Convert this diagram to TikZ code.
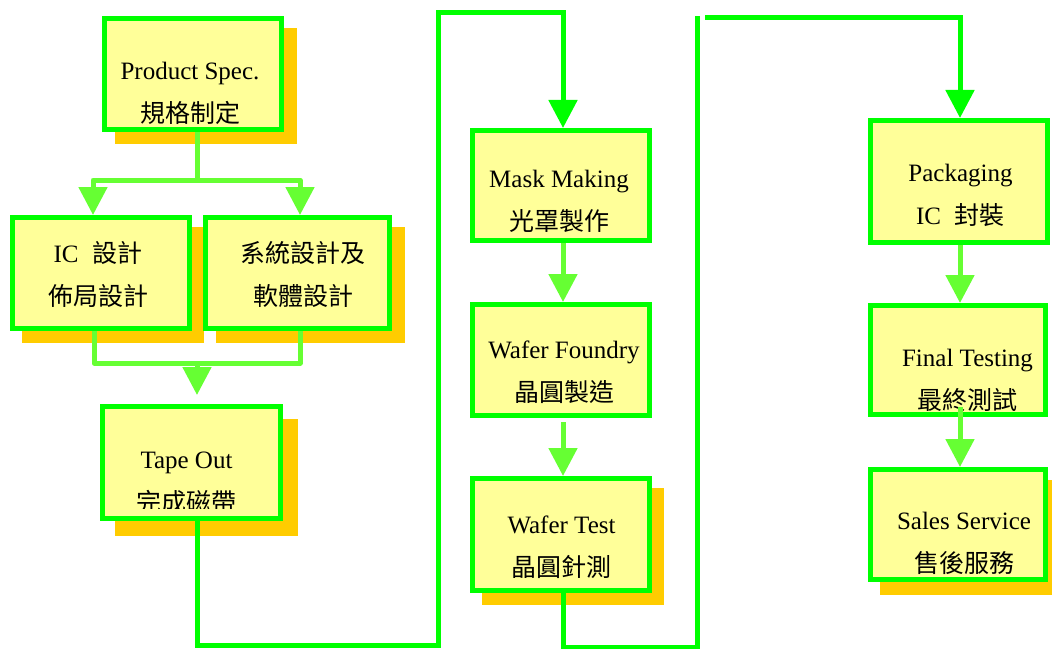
\documentclass[tikz,border=0pt]{standalone}
\usepackage{fontspec}
\setmainfont{Liberation Serif}
\newfontfamily\cjk{Noto Sans CJK TC}
\usetikzlibrary{arrows.meta,calc,backgrounds}
\definecolor{bordergreen}{HTML}{00FF00}
\definecolor{linkgreen}{HTML}{66FF33}
\definecolor{boxfill}{HTML}{FFFF99}
\definecolor{shadowc}{HTML}{FFCC00}
\begin{document}
\begin{tikzpicture}[x=0.75pt,y=-0.75pt,
  box/.style={draw=bordergreen,line width=3.75pt,fill=boxfill,inner sep=0pt},
  txt/.style={align=center,font=\fontsize{18.75}{32.25}\selectfont,inner sep=0pt},
  link/.style={draw=linkgreen,line width=3.75pt,line join=round},
  flow/.style={draw=bordergreen,line width=3.75pt},
  tip/.style={-{Triangle[width=21pt,length=21pt]}}]
\useasboundingbox (0,0) rectangle (1052,649);
% boxes
\node[box,minimum width=132.75pt,minimum height=83.25pt] (ps) at (193,74) {};
\node[box,minimum width=132.75pt,minimum height=83.25pt] (ic) at (101,273) {};
\node[box,minimum width=138pt,minimum height=83.25pt] (sys) at (297.5,273) {};
\node[box,minimum width=133.5pt,minimum height=84pt] (to) at (191.5,462.5) {};
\node[box,minimum width=132.75pt,minimum height=82.5pt] (mm) at (561,185.5) {};
\node[box,minimum width=132.75pt,minimum height=83.25pt] (wf) at (561,360) {};
\node[box,minimum width=132.75pt,minimum height=84pt] (wt) at (561,534.5) {};
\node[box,minimum width=132.75pt,minimum height=91.5pt] (pk) at (959,181.5) {};
\node[box,minimum width=131.25pt,minimum height=81.75pt] (ft) at (958,360) {};
\node[box,minimum width=131.25pt,minimum height=82.5pt] (ss) at (958,524.5) {};
% shadows
\begin{scope}[on background layer]
\foreach \n/\dx/\dy in {ps/13/12,ic/12/12,sys/13/12,to/15/15,wt/12/12,ss/12/13}
  \fill[shadowc] ($(\n.north west)+(\dx,\dy)$) rectangle ($(\n.south east)+(\dx,\dy)$);
\end{scope}
% texts
\node[txt] (ps-t) at (190,93.5) {Product Spec.\\{\cjk 規格制定}};
\node[txt] (ic-t) at (98,274.5) {IC\hspace{0.55em}{\cjk 設計}\\{\cjk 佈局設計}};
\node[txt] (sys-t) at (303,274.5) {{\cjk 系統設計及}\\{\cjk 軟體設計}};
\begin{scope}
\clip (to.north west) rectangle ($(to.south east)+(0,-13)$);
\node[txt] (to-t) at (186.5,483) {Tape Out\\{\cjk 完成磁帶}};
\end{scope}
\node[txt] (mm-t) at (559,201) {Mask Making\\{\cjk 光罩製作}};
\node[txt] (wf-t) at (564,372.5) {Wafer Foundry\\{\cjk 晶圓製造}};
\node[txt] (wt-t) at (561.5,547) {Wafer Test\\{\cjk 晶圓針測}};
\node[txt] (pk-t) at (960.5,195.5) {Packaging\\IC\hspace{0.55em}{\cjk 封裝}};
\node[txt] (ft-t) at (967.5,380) {Final Testing\\{\cjk 最終測試}};
\node[txt] (ss-t) at (964,543) {Sales Service\\{\cjk 售後服務}};
% left branch connectors
\coordinate (split) at ($(ps.south)+(4,48)$);
\draw[link] ($(ps.south)+(4,0)$) -- (split);
\draw[link,tip] (split) -| ($(ic.north)+(-8,0)$);
\draw[link,tip] (split) -| ($(sys.north)+(2.5,0)$);
\draw[link] ($(ic.south)+(-7,0)$) |- ($(sys.south)+(2.5,32)$) -- ($(sys.south)+(2.5,0)$);
\coordinate (merge) at ($(to.north)+(5.5,-41)$);
\draw[link,tip] (merge) -- ($(to.north)+(5.5,-9)$);
% long connectors
\coordinate (lowA) at (438,645);
\coordinate (topA) at (438,13);
\draw[flow,tip] ($(to.south)+(5.5,0)$) |- (lowA) -- (topA) -| ($(mm.north)+(2,0)$);
\coordinate (lowB) at (697,647);
\coordinate (topB) at (697,16);
\coordinate (topC) at (705,18);
\draw[flow] ($(wt.south)+(2,0)$) |- (lowB) -- (topB);
\draw[flow,tip] (topC) -| ($(pk.north)+(1,0)$);
% short connectors
\draw[link,tip] ($(mm.south)+(2,0)$) -- ($(wf.north)+(2,0)$);
\draw[link,tip] ($(wf.south)+(2,4)$) -- ($(wt.north)+(2,0)$);
\draw[link,tip] ($(pk.south)+(1,0)$) -- ($(ft.north)+(2,0)$);
\draw[link,tip] ($(ft.south)+(2,-10)$) -- ($(ss.north)+(2,0)$);
\end{tikzpicture}
\end{document}
